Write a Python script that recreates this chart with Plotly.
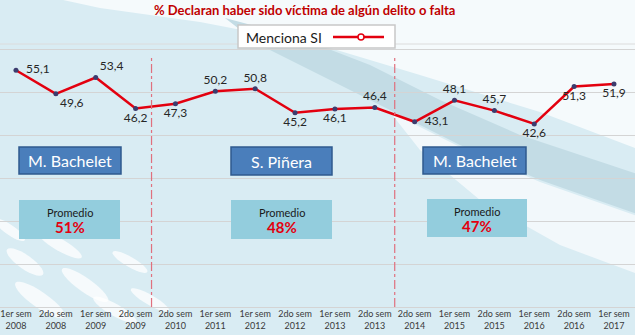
import plotly.graph_objects as go
import math

# ---------------- data ----------------
periods = ["1er sem<br>2008", "2do sem<br>2008", "1er sem<br>2009", "2do sem<br>2009",
           "2do sem<br>2010", "1er sem<br>2011", "1er sem<br>2012", "2do sem<br>2012",
           "1er sem<br>2013", "2do sem<br>2013", "2do sem<br>2014", "1er sem<br>2015",
           "2do sem<br>2015", "1er sem<br>2016", "2do sem<br>2016", "1er sem<br>2017"]
menciona_si = [55.1, 49.6, 53.4, 46.2, 47.3, 50.2, 50.8, 45.2, 46.1, 46.4,
               43.1, 48.1, 45.7, 42.6, 51.3, 51.9]
label_pos = ["middle right", "bottom right", "top right", "bottom center",
             "bottom center", "top center", "top center", "bottom center",
             "bottom center", "top center", "middle right", "top center",
             "top center", "bottom center", "bottom center", "bottom center"]
governments = ["M. Bachelet", "S. Piñera", "M. Bachelet"]
promedios = ["51%", "48%", "47%"]
period_breaks = [3.4, 9.5]
series_name = "Menciona SI"
title = "% Declaran haber sido víctima de algún delito o falta"

W, H = 635, 335
TOP, BOT = 44, 307  # plot area in pixels


def P(px, py):
    return px / W, (BOT - py) / (BOT - TOP)


def poly(points):
    s = ""
    for i, (px, py) in enumerate(points):
        x, y = P(px, py)
        s += ("M" if i == 0 else "L") + f"{x:.4f},{y:.4f} "
    return s + "Z"


def ellipse(cx, cy, a, b, ang, n=28):
    pts = []
    t = math.radians(ang)
    for k in range(n):
        th = 2 * math.pi * k / n
        x = a * math.cos(th)
        y = b * math.sin(th)
        pts.append((cx + x * math.cos(t) - y * math.sin(t), cy + x * math.sin(t) + y * math.cos(t)))
    return poly(pts)


FONT = "Lato"
texts = []
for v, pos in zip(menciona_si, label_pos):
    t = f"{v:.1f}".replace(".", ",")
    if pos == "middle right":
        t = "\u2002" + t
    texts.append(t)

fig = go.Figure()
fig.add_trace(go.Scatter(
    x=periods, y=menciona_si, mode="lines+markers+text", name=series_name,
    text=texts, textposition=label_pos,
    textfont=dict(family=FONT, size=12, color="#262626"),
    line=dict(color="#e3000f", width=2.5),
    marker=dict(size=5, color="#3c3c6e"),
    cliponaxis=False, showlegend=False))

shapes = []
# background swooshes
shapes.append(dict(type="path", path=poly([(40, -5), (640, -5), (640, 150), (540, 112), (420, 75), (320, 45), (200, 22), (100, 8)]),
                   fillcolor="#f5fafc", line=dict(width=0), xref="paper", yref="paper", layer="below"))
shapes.append(dict(type="path", path=poly([(225, 18), (300, 38), (370, 65), (440, 100), (520, 135), (640, 175),
                                          (640, 215), (540, 180), (460, 145), (390, 110), (320, 75), (260, 45)]),
                   fillcolor="#c3dce5", line=dict(width=0), xref="paper", yref="paper", layer="below"))
shapes.append(dict(type="path", path=poly([(390, 112), (460, 147), (540, 182), (640, 217),
                                          (640, 275), (560, 245), (480, 200), (420, 150)]),
                   fillcolor="#f2f8fb", line=dict(width=0), xref="paper", yref="paper", layer="below"))
for (cx, cy, a, b, ang) in [(25, 262, 22, 7, 35), (60, 245, 25, 6, 30), (85, 285, 28, 7, 35),
                            (40, 300, 30, 8, 35), (130, 262, 20, 5, 30), (115, 310, 25, 6, 30),
                            (10, 230, 18, 5, 35), (150, 300, 22, 5, 30)]:
    shapes.append(dict(type="path", path=ellipse(cx, cy, a, b, ang),
                       fillcolor="rgba(255,255,255,0.75)", line=dict(width=0),
                       xref="paper", yref="paper", layer="below"))
# top border line
shapes.append(dict(type="line", xref="paper", yref="paper", x0=0, x1=1, y0=1, y1=1,
                   line=dict(color="#dcdcdc", width=1), layer="below"))
# period separators
y0s, y1s = P(0, 307)[1], P(0, 57)[1]
for xb in period_breaks:
    shapes.append(dict(type="line", xref="x", yref="paper", x0=xb, x1=xb, y0=y0s, y1=y1s,
                       line=dict(color="#e0707e", width=1.2, dash="dashdot")))
# government boxes and promedio boxes
gov_boxes = [(19, 147, 121, 174), (231, 147, 332, 175), (423, 147, 526, 174)]
prom_boxes = [(19, 200, 120, 239), (231, 200, 332, 239), (427, 199, 527, 237)]
annotations = []


def ann(px, py, text, font, xanchor="center"):
    x, y = P(px, py)
    annotations.append(dict(x=x, y=y, xref="paper", yref="paper", text=text, showarrow=False,
                            xanchor=xanchor, yanchor="middle", font=font))


for (x0, y0, x1, y1), name in zip(gov_boxes, governments):
    a0, b0 = P(x0, y1)
    a1, b1 = P(x1, y0)
    shapes.append(dict(type="rect", xref="paper", yref="paper", x0=a0, x1=a1, y0=b0, y1=b1,
                       fillcolor="#4a7ebb", line=dict(color="#2f5a8f", width=1.5)))
    ann((x0 + x1) / 2, (y0 + y1) / 2, name, dict(family=FONT, size=16, color="white"))
for (x0, y0, x1, y1), pr in zip(prom_boxes, promedios):
    a0, b0 = P(x0, y1)
    a1, b1 = P(x1, y0)
    shapes.append(dict(type="rect", xref="paper", yref="paper", x0=a0, x1=a1, y0=b0, y1=b1,
                       fillcolor="#93cddd", line=dict(width=0)))
    ann((x0 + x1) / 2, y0 + 12, "Promedio", dict(family=FONT, size=11, color="#1a1a1a"))
    ann((x0 + x1) / 2, y0 + 27, f"<b>{pr}</b>", dict(family=FONT, size=15, color="#e3000f"))
# legend box
l0, lb = P(238, 48)
l1, lt = P(395, 25)
shapes.append(dict(type="rect", xref="paper", yref="paper", x0=l0, x1=l1, y0=lb, y1=lt,
                   fillcolor="white", line=dict(color="#c8c8c8", width=1.5)))
ly = P(0, 37)[1]
shapes.append(dict(type="line", xref="paper", yref="paper", x0=P(333, 0)[0], x1=P(384, 0)[0], y0=ly, y1=ly,
                   line=dict(color="#e3000f", width=2.5)))
cxm = P(361, 0)[0]
shapes.append(dict(type="circle", xref="paper", yref="paper", x0=cxm - 3 / W, x1=cxm + 3 / W,
                   y0=ly - 3 / 263, y1=ly + 3 / 263, fillcolor="white", line=dict(color="#e3000f", width=1.5)))
ann(244, 37, series_name, dict(family=FONT, size=14, color="#1a1a1a"), xanchor="left")
# title
ann(304, 10, f"<b>{title}</b>", dict(family=FONT, size=13, color="#c00000"))

fig.update_layout(
    width=W, height=H, margin=dict(l=0, r=0, t=TOP, b=H - BOT),
    paper_bgcolor="#d9ecf3", plot_bgcolor="rgba(0,0,0,0)",
    shapes=shapes, annotations=annotations,
    xaxis=dict(type="category", range=[-0.401, 15.527], showgrid=False, ticks="", showline=False,
               tickfont=dict(family=FONT, size=9, color="#3a3a3a"), zeroline=False),
    yaxis=dict(range=[0, 61.2], dtick=10, showgrid=True, gridcolor="#d4d4d4", gridwidth=1,
               showticklabels=False, zeroline=True, zerolinecolor="#d4d4d4", zerolinewidth=1),
)
fig.write_html("out.html")
